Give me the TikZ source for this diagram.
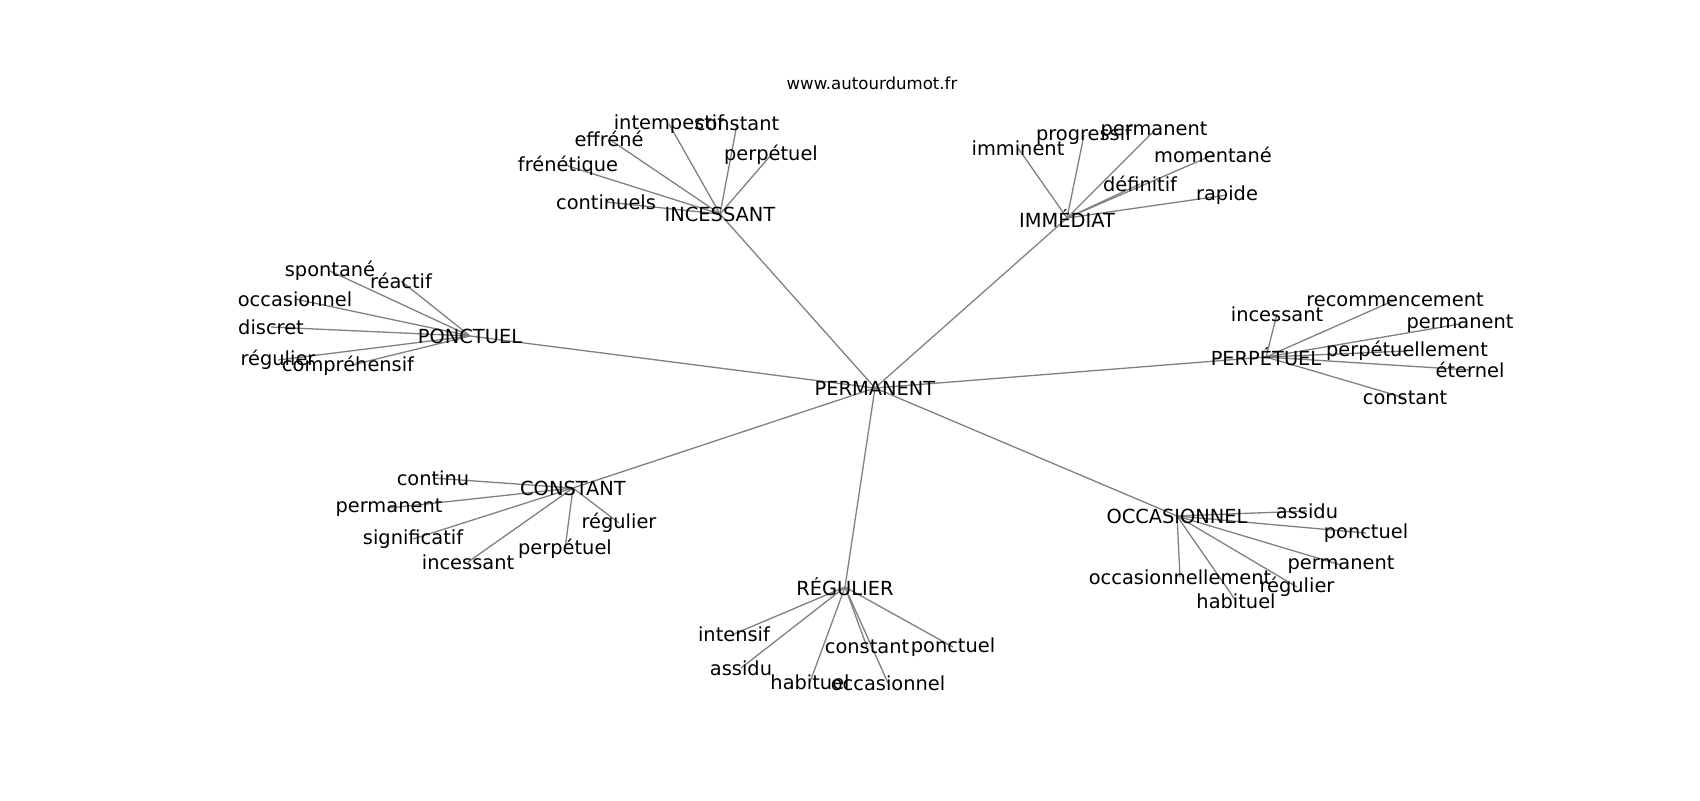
\documentclass[tikz,border=0pt]{standalone}
\usepackage{fontspec}
\setmainfont{DejaVu Sans}
\usetikzlibrary{backgrounds}

\begin{document}
\begin{tikzpicture}[x=0.5pt,y=-0.5pt,
  word/.style={inner sep=0pt,font=\fontsize{9.7}{11}\selectfont},
  link/.style={draw=gray,line width=0.65pt}]
  \useasboundingbox (0,0) rectangle (1700,800);
  \node[inner sep=0pt,font=\fontsize{8.3}{10}\selectfont] (site) at (872,83) {www.autourdumot.fr};
  % centre and hubs
  \node[word] (perm) at (875,388) {PERMANENT};
  \node[word] (inc) at (720,214) {INCESSANT};
  \node[word] (imm) at (1067,218) {IMMÉDIAT};
  \node[word] (ponc) at (470,336) {PONCTUEL};
  \node[word] (perp) at (1266,357) {PERPÉTUEL};
  \node[word] (cons) at (573,488) {CONSTANT};
  \node[word] (reg) at (845,587) {RÉGULIER};
  \node[word] (occ) at (1177,516) {OCCASIONNEL};
  % INCESSANT
  \node[word] (inc1) at (669,124) {intempestif};
  \node[word] (inc2) at (737,124) {constant};
  \node[word] (inc3) at (609,139) {effréné};
  \node[word] (inc4) at (771,155) {perpétuel};
  \node[word] (inc5) at (568,166) {frénétique};
  \node[word] (inc6) at (606,202) {continuels};
  % IMMEDIAT
  \node[word] (imm1) at (1018,148) {imminent};
  \node[word] (imm2) at (1084,135) {progressif};
  \node[word] (imm3) at (1154,131) {permanent};
  \node[word] (imm4) at (1213,155) {momentané};
  \node[word] (imm5) at (1140,184) {définitif};
  \node[word] (imm6) at (1227,195) {rapide};
  % PONCTUEL
  \node[word] (ponc1) at (330,271) {spontané};
  \node[word] (ponc2) at (401,281) {réactif};
  \node[word] (ponc3) at (295,299) {occasionnel};
  \node[word] (ponc4) at (271,327) {discret};
  \node[word] (ponc5) at (278,360) {régulier};
  \node[word] (ponc6) at (348,366) {compréhensif};
  % PERPETUEL
  \node[word] (perp1) at (1277,314) {incessant};
  \node[word] (perp2) at (1395,300) {recommencement};
  \node[word] (perp3) at (1460,324) {permanent};
  \node[word] (perp4) at (1407,351) {perpétuellement};
  \node[word] (perp5) at (1470,370) {éternel};
  \node[word] (perp6) at (1405,398) {constant};
  % CONSTANT
  \node[word] (cons1) at (433,478) {continu};
  \node[word] (cons2) at (389,508) {permanent};
  \node[word] (cons3) at (413,539) {significatif};
  \node[word] (cons4) at (468,562) {incessant};
  \node[word] (cons5) at (565,549) {perpétuel};
  \node[word] (cons6) at (619,523) {régulier};
  % REGULIER
  \node[word] (reg1) at (734,634) {intensif};
  \node[word] (reg2) at (741,668) {assidu};
  \node[word] (reg3) at (867,647) {constant};
  \node[word] (reg4) at (953,647) {ponctuel};
  \node[word] (reg5) at (810,682) {habituel};
  \node[word] (reg6) at (888,683) {occasionnel};
  % OCCASIONNEL
  \node[word] (occ1) at (1307,511) {assidu};
  \node[word] (occ2) at (1366,533) {ponctuel};
  \node[word] (occ3) at (1341,565) {permanent};
  \node[word] (occ4) at (1180,577) {occasionnellement};
  \node[word] (occ5) at (1297,587) {régulier};
  \node[word] (occ6) at (1236,601) {habituel};
  \begin{scope}[on background layer]
    \foreach \h in {inc,imm,ponc,perp,cons,reg,occ} {
      \draw[link] (perm.center) -- (\h.center);
      \foreach \i in {1,...,6}
        \draw[link] (\h.center) -- (\h\i.center);
    }
  \end{scope}
\end{tikzpicture}
\end{document}
